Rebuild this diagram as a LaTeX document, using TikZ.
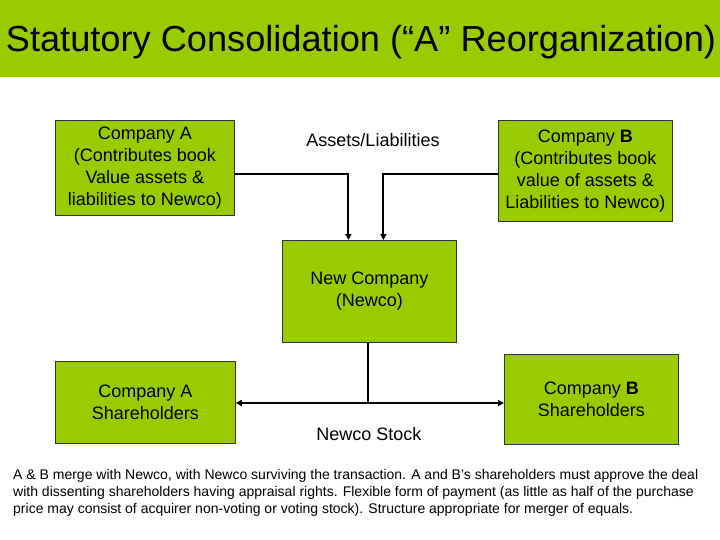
\documentclass[tikz,border=0pt]{standalone}
\usepackage{fontspec}
\setmainfont{Liberation Sans}
\usetikzlibrary{arrows.meta}
\definecolor{slidegreen}{HTML}{99CC00}
\definecolor{boxline}{HTML}{333333}
\tikzset{
  box/.style={draw=boxline, line width=0.8pt, fill=slidegreen, anchor=north west,
    inner sep=0pt, align=center, font=\fontsize{18}{22}\selectfont},
  lbl/.style={font=\fontsize{18}{22}\selectfont, inner sep=0pt},
  conn/.style={line width=2pt, black},
  arr/.style={conn, -{Triangle[length=6pt,width=6pt]}}
}
\begin{document}
\begin{tikzpicture}[x=1pt,y=-1pt]
\useasboundingbox (0,0) rectangle (720,540);
\fill[slidegreen] (0,0) rectangle (720,77);
\node[font=\fontsize{36.2}{42}\selectfont, inner sep=0pt, anchor=base] (title) at (361,52) {Statutory Consolidation (“A” Reorganization)};

\node[box, minimum width=179pt, minimum height=95pt] (A) at (55,120)
  {Company A\\(Contributes book\\Value assets \&\\liabilities to Newco)};
\node[box, minimum width=174pt, minimum height=101pt] (B) at (498,120)
  {Company \textbf{B}\\(Contributes book\\value of assets \&\\Liabilities to Newco)};
\node[box, minimum width=174pt, minimum height=102pt] (N) at (282,240)
  {New Company\\(Newco)};
\node[box, minimum width=180pt, minimum height=82pt] (AS) at (55,361)
  {Company A\\Shareholders};
\node[box, minimum width=174pt, minimum height=90pt] (BS) at (504,354)
  {Company \textbf{B}\\Shareholders};

\node[lbl] (al) at (373,140) {Assets/Liabilities};
\node[lbl] (ns) at (369,434) {Newco Stock};

\draw[arr] ([yshift=-6.5pt]A.east) -| ([xshift=-21pt]N.north);
\draw[arr] ([yshift=-3.5pt]B.west) -| ([xshift=14pt]N.north);

\coordinate (j) at ([xshift=-1pt]N.south |- 0,403);
\draw[conn] ([xshift=-1pt]N.south) -- (j);
\draw[arr] (j) -- (AS.east |- j);
\draw[arr] (j) -- (BS.west |- j);

\node[anchor=north west, inner sep=0pt, align=left, font=\fontsize{14}{17}\selectfont] (txt) at (13,469)
  {A \& B merge with Newco, with Newco surviving the transaction. A and B’s shareholders must approve the deal\\
   with dissenting shareholders having appraisal rights. Flexible form of payment (as little as half of the purchase\\
   price may consist of acquirer non-voting or voting stock). Structure appropriate for merger of equals.};
\end{tikzpicture}
\end{document}
